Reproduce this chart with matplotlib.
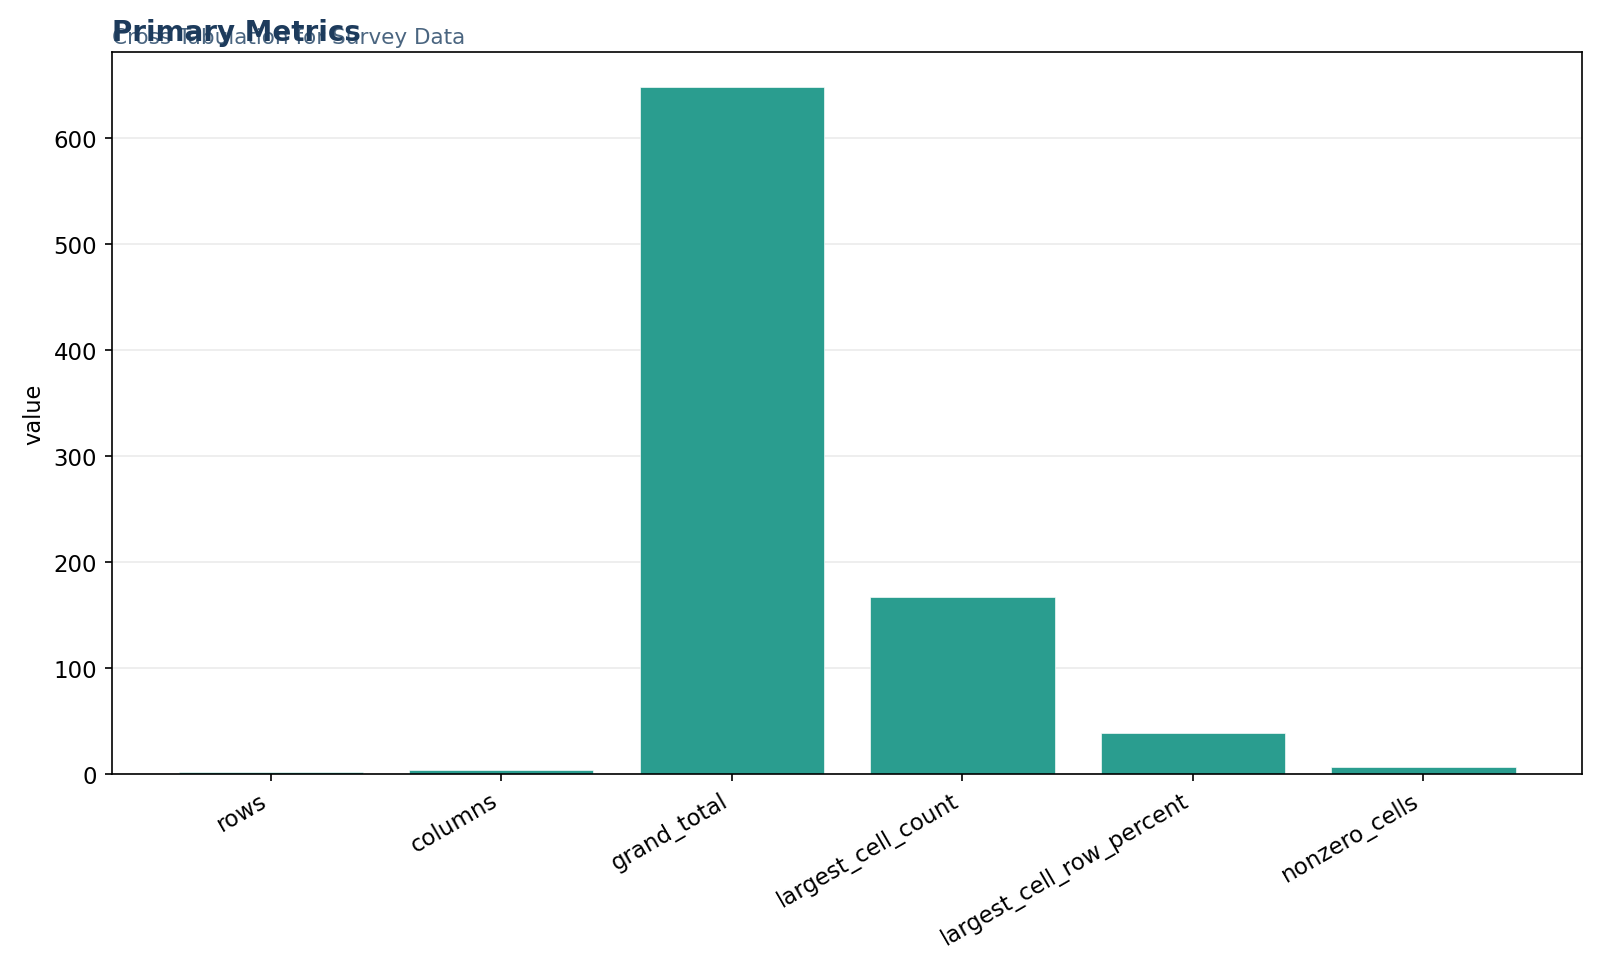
import matplotlib
import matplotlib.pyplot as plt

matplotlib.use("Agg")

# metric names and their values
metrics = ["rows", "columns", "grand_total", "largest_cell_count",
           "largest_cell_row_percent", "nonzero_cells"]
values = [2, 4, 648, 167, 39, 7]

title = "Primary Metrics"
subtitle = "Cross Tabulation for Survey Data"

fig, ax = plt.subplots(figsize=(1600 / 150, 978 / 150), dpi=150)

ax.bar(metrics, values, color="#2a9d8f", edgecolor="white", linewidth=0.3)

ax.set_ylabel("value", fontsize=10.8)
ax.tick_params(axis="both", labelsize=11)
plt.setp(ax.get_xticklabels(), rotation=30, ha="right")
ax.grid(axis="y", color="#ebebeb", linewidth=0.8)
ax.set_axisbelow(True)

ax.set_title(title, loc="left", fontsize=13.3, fontweight="bold", color="#1d3b5c", pad=6)
# subtitle sits just under the title (they overlap in the original)
ax.text(0.0, 1.0135, subtitle, transform=ax.transAxes, fontsize=10.3,
        color="#4a6580", ha="left", va="baseline")

fig.subplots_adjust(left=0.0698, right=0.989, top=0.9455, bottom=0.2076)
plt.savefig("out.png", dpi=150)
plt.close(fig)
